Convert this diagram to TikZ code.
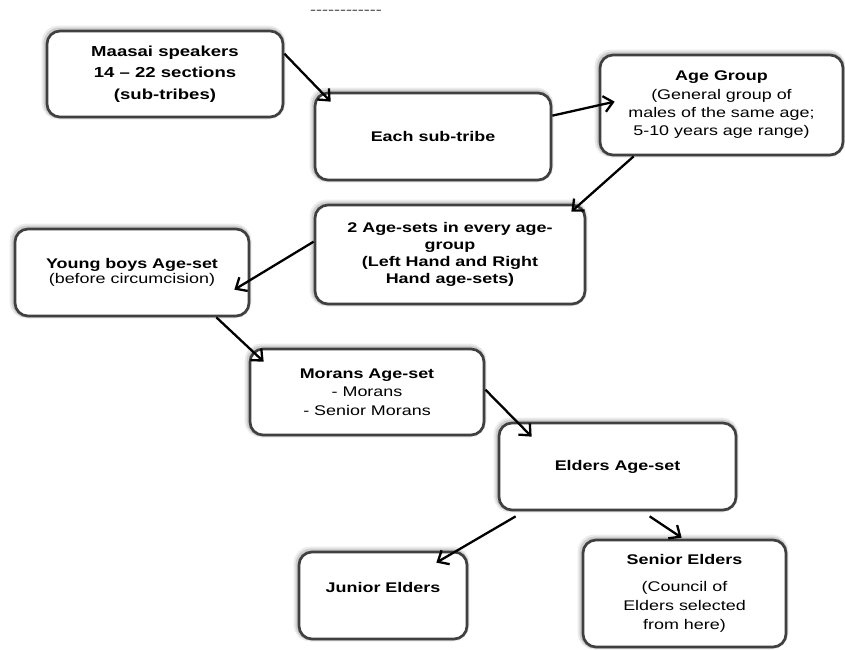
\documentclass[tikz,border=0pt]{standalone}
\usepackage{fontspec}
\setmainfont{Liberation Sans}[FakeStretch=1.28]
\newfontfamily\plainfont{Liberation Sans}[FakeStretch=1.28]
\usetikzlibrary{arrows.meta,calc,shadows}
\definecolor{boxline}{HTML}{404040}
\tikzset{
  box/.style={draw=boxline, line width=2.7pt, rounded corners=13pt, fill=white,
    align=center, inner sep=0pt, text=black,
    general shadow={shadow xshift=-1.5pt, shadow yshift=1.5pt, draw=black, fill=none, opacity=0.08, line width=8pt},
    general shadow={shadow xshift=-1pt, shadow yshift=1pt, draw=black, fill=none, opacity=0.12, line width=5pt}},
  conn/.style={draw=black, line width=2.3pt, -{Straight Barb[length=9pt,width=16pt]}},
  txt/.style={font=\fontsize{14}{#1}\selectfont},
}
\begin{document}
\begin{tikzpicture}[x=1pt,y=-1pt]
\fill[white] (0,0) rectangle (845,649);
\useasboundingbox (0,0) rectangle (845,649);

\node[inner sep=0pt, text=boxline, font=\plainfont\fontsize{14}{14}\selectfont] (dashes) at (346,12) {------------};

\node[box, minimum width=236pt, minimum height=86pt, font=\fontsize{14.5}{21.5}\selectfont\bfseries] (maasai) at (165,74)
  {Maasai speakers\\14 – 22 sections\\(sub-tribes)};
\node[box, minimum width=236pt, minimum height=87pt, font=\fontsize{14}{18}\selectfont\bfseries] (each) at (433,136.5)
  {Each sub-tribe};
\node[box, minimum width=243pt, minimum height=100pt, txt=18.3] (agegroup) at (721.5,105)
  {\textbf{Age Group}\\(General group of\\males of the same age;\\5-10 years age range)};
\node[box, minimum width=270pt, minimum height=99pt, font=\fontsize{14}{17}\selectfont\bfseries] (twoage) at (450,254.5)
  {2 Age-sets in every age-\\group\\(Left Hand and Right\\Hand age-sets)};
\node[box, minimum width=234pt, minimum height=87pt, txt=15] (young) at (132,272.5)
  {\textbf{Young boys Age-set}\\(before circumcision)};
\node[box, minimum width=234pt, minimum height=86pt, txt=18.5] (morans) at (367,392)
  {\textbf{Morans Age-set}\\- Morans\\- Senior Morans};
\node[box, minimum width=237pt, minimum height=87pt, font=\fontsize{14}{18}\selectfont\bfseries] (elders) at (617.5,466.5)
  {Elders Age-set};
\node[box, minimum width=168pt, minimum height=87pt, font=\fontsize{14}{18}\selectfont\bfseries] (junior) at (383,595.5)
  {\raisebox{16pt}{Junior Elders}};
\node[box, minimum width=203pt, minimum height=107pt, txt=19] (senior) at (684.5,593.5)
  {\textbf{Senior Elders}\\[8pt](Council of\\Elders selected\\from here)};

\draw[conn] ($(maasai.north east)+(0,24)$) -- ($(each.north west)+(17,10)$);
\draw[conn] ($(each.north east)+(0,24)$) -- ($(agegroup.north west)+(16,48)$);
\draw[conn] ($(agegroup.south west)+(35,0)$) -- ($(twoage.north east)+(-15,8)$);
\draw[conn] ($(twoage.north west)+(0,38)$) -- ($(young.north east)+(-16,62)$);
\draw[conn] ($(young.south east)+(-34,0)$) -- ($(morans.north west)+(15,14)$);
\draw[conn] ($(morans.north east)+(0,42)$) -- ($(elders.north west)+(34,15)$);
\draw[conn] ($(elders.south west)+(18,5)$) -- ($(junior.north east)+(-32,12)$);
\draw[conn] ($(elders.south west)+(152,5)$) -- ($(senior.north west)+(100,-1)$);
\end{tikzpicture}
\end{document}
